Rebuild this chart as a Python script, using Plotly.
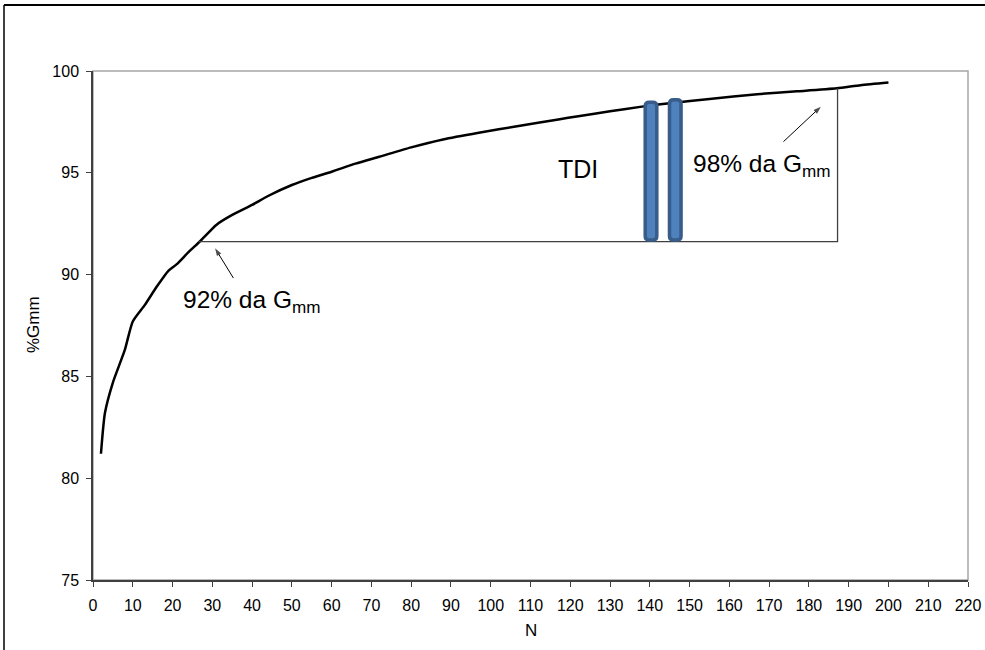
import plotly.graph_objects as go

# Compaction curve (%Gmm vs number of gyrations N)
n_gyr = [2, 3, 5, 8, 10, 13, 16, 19, 21, 24, 27, 31, 35, 40, 44, 50, 55, 60, 66, 72,
         80, 88, 97, 107, 117, 122, 130, 138, 145, 155, 167, 177, 187, 193, 200]
gmm_pct = [81.2, 83.2, 84.7, 86.3, 87.7, 88.5, 89.4, 90.2, 90.5, 91.1, 91.65, 92.44, 92.93,
           93.42, 93.86, 94.4, 94.75, 95.05, 95.45, 95.79, 96.25, 96.64, 96.97, 97.3, 97.62,
           97.78, 98.02, 98.25, 98.42, 98.62, 98.86, 99.0, 99.15, 99.3, 99.43]

# TDI box (from 92% to 98% level)
box_n = [26.5, 187.2, 187.2]
box_y = [91.62, 91.62, 99.15]

# TDI bars
bar_n = [140.3, 146.4]
bar_top = [98.54, 98.66]
bar_base = 91.62

x_ticks = list(range(0, 221, 10))
y_ticks = list(range(75, 101, 5))

# arrows: (tip_n, tip_y, tail_n, tail_y)
arrow_92 = (30.7, 91.29, 35.3, 89.83)
arrow_98 = (183.0, 98.25, 173.6, 96.53)

FONT = "Liberation Sans, Arial, sans-serif"

# pixel geometry of the plot area
L, R, T, B = 93, 17, 71, 70
W, H = 985, 650
pw, ph = W - L - R, H - T - B
x_rng, y_rng = (0, 220), (75, 100)
px_x = pw / (x_rng[1] - x_rng[0])
px_y = ph / (y_rng[1] - y_rng[0])

fig = go.Figure()

fig.add_trace(go.Scatter(x=n_gyr, y=gmm_pct, mode="lines",
                         line=dict(color="black", width=2.5, shape="spline", smoothing=0.6),
                         showlegend=False, hoverinfo="skip"))
fig.add_trace(go.Scatter(x=box_n, y=box_y, mode="lines",
                         line=dict(color="#404040", width=1.3), showlegend=False,
                         hoverinfo="skip"))
# arrows (shaft + head marker at the tip)
for tip_x, tip_y, tail_x, tail_y in (arrow_92, arrow_98):
    fig.add_trace(go.Scatter(x=[tail_x, tip_x], y=[tail_y, tip_y], mode="lines+markers",
                             line=dict(color="black", width=1),
                             marker=dict(symbol="arrow", size=[0, 8], angleref="previous",
                                         color="black", line=dict(width=0)),
                             showlegend=False, hoverinfo="skip"))

shapes = []
# plot area frame (gray)
shapes.append(dict(type="rect", xref="paper", yref="paper", x0=0, x1=1, y0=0, y1=1,
                   line=dict(color="#A6A6A6", width=1.5), layer="below"))
# outer border (top and left)
shapes.append(dict(type="line", xref="paper", yref="paper",
                   x0=(4 - L) / pw, x1=1.1, y0=(H - B - 5) / ph, y1=(H - B - 5) / ph,
                   line=dict(color="black", width=2)))
shapes.append(dict(type="line", xref="paper", yref="paper",
                   x0=(4 - L) / pw, x1=(4 - L) / pw, y0=(H - B - 5) / ph, y1=-0.3,
                   line=dict(color="black", width=1.5)))

# rounded bars
half_w = 5.8 / px_x
rx = 4 / px_x
ry = 4 / px_y
inset = 1.5 / px_y
for cx, top in zip(bar_n, bar_top):
    x0, x1 = cx - half_w, cx + half_w
    y0, y1 = bar_base + inset, top - inset
    path = (f"M {x0+rx},{y0} L {x1-rx},{y0} Q {x1},{y0} {x1},{y0+ry} "
            f"L {x1},{y1-ry} Q {x1},{y1} {x1-rx},{y1} L {x0+rx},{y1} "
            f"Q {x0},{y1} {x0},{y1-ry} L {x0},{y0+ry} Q {x0},{y0} {x0+rx},{y0} Z")
    shapes.append(dict(type="path", xref="x", yref="y", path=path,
                       fillcolor="#4F81BD", line=dict(color="#385D8A", width=3.5)))

annotations = []
annotations.append(dict(x=22.2, y=88.7, xref="x", yref="y", xanchor="left", yanchor="middle",
                        text="92% da G<sub>mm</sub>", showarrow=False,
                        font=dict(family=FONT, size=24.5, color="black")))
annotations.append(dict(x=150.3, y=95.38, xref="x", yref="y", xanchor="left", yanchor="middle",
                        text="98% da G<sub>mm</sub>", showarrow=False,
                        font=dict(family=FONT, size=24.5, color="black")))
annotations.append(dict(x=121.9, y=95.2, xref="x", yref="y", xanchor="center", yanchor="middle",
                        text="TDI", showarrow=False,
                        font=dict(family=FONT, size=25, color="black")))
# axis titles
annotations.append(dict(x=(33 - L) / pw, y=(H - B - 325) / ph, xref="paper", yref="paper",
                        xanchor="center", yanchor="middle", text="%Gmm", textangle=-90,
                        showarrow=False, font=dict(family=FONT, size=17, color="black")))
annotations.append(dict(x=(531 - L) / pw, y=(H - B - 630) / ph, xref="paper", yref="paper",
                        xanchor="center", yanchor="middle", text="N",
                        showarrow=False, font=dict(family=FONT, size=17, color="black")))

fig.update_layout(
    width=W, height=H,
    margin=dict(l=L, r=R, t=T, b=B, autoexpand=False),
    paper_bgcolor="white", plot_bgcolor="white",
    font=dict(family=FONT, size=16, color="black"),
    shapes=shapes, annotations=annotations,
    xaxis=dict(range=list(x_rng), tickvals=x_ticks, ticktext=[str(v) for v in x_ticks],
               automargin=False,
               showgrid=False, zeroline=False, showline=True, linecolor="#404040",
               linewidth=1.5, ticks="outside", ticklen=5, tickcolor="#404040",
               ticklabelstandoff=5, tickfont=dict(size=16)),
    yaxis=dict(range=list(y_rng), tickvals=y_ticks, ticktext=[str(v) for v in y_ticks],
               automargin=False,
               showgrid=False, zeroline=False, showline=True, linecolor="#404040",
               linewidth=1.5, ticks="outside", ticklen=5, tickcolor="#404040",
               ticklabelstandoff=4, tickfont=dict(size=16)),
)

fig.write_html("out.html", config={"displayModeBar": False},
               post_script="document.body.style.margin='0';")
